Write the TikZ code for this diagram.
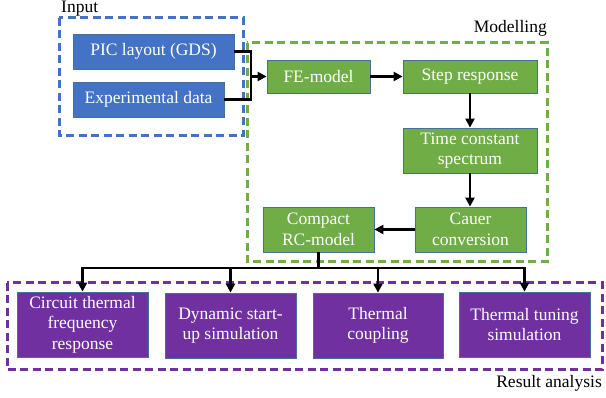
\documentclass[tikz,border=0pt]{standalone}
\usepackage{fontspec}
\setmainfont{Liberation Serif}
\newfontfamily\tnr{Liberation Serif}
\usetikzlibrary{arrows.meta}
\definecolor{oblue}{RGB}{68,114,196}
\definecolor{ogreen}{RGB}{112,173,71}
\definecolor{opurple}{RGB}{112,48,160}
\definecolor{oedge}{RGB}{65,113,156}
\tikzset{
  boxbase/.style={draw=oedge, line width=0.8pt, text=white, align=center, inner sep=0pt,
    font=\tnr\fontsize{17.5}{20.5}\selectfont},
  bluebox/.style={boxbase, fill=oblue},
  greenbox/.style={boxbase, fill=ogreen},
  purplebox/.style={boxbase, fill=opurple},
  groupbox/.style={line width=3pt, dash pattern=on 8pt off 4.5pt},
  grouplabel/.style={font=\tnr\fontsize{17.5}{20.5}\selectfont, inner sep=0pt},
  arr/.style={line width=2.6pt, -{Triangle[length=9pt,width=9pt]}},
  conn/.style={line width=2.6pt},
}
\begin{document}
\begin{tikzpicture}[x=1pt,y=-1pt]
\useasboundingbox (0,0) rectangle (606,398);
% group frames
\draw[groupbox, draw=oblue] (59,18) rectangle (243,136);
\draw[groupbox, draw=ogreen] (247,43) rectangle (547,262);
\draw[groupbox, draw=opurple] (7,283) rectangle (602,370);
\node[grouplabel, anchor=west] (linput) at (61,9) {Input};
\node[grouplabel, anchor=east] (lmodel) at (547,28) {Modelling};
\node[grouplabel, anchor=east] (lresult) at (602,383) {Result analysis};
% input nodes
\node[bluebox, minimum width=161pt, minimum height=35pt] (pic) at (153.5,51.5) {PIC layout (GDS)};
\node[bluebox, minimum width=151pt, minimum height=35pt] (exp) at (148.5,99.5) {Experimental data};
% modelling nodes
\node[greenbox, minimum width=103pt, minimum height=33pt] (fe) at (318.5,76.5) {FE-model};
\node[greenbox, minimum width=134pt, minimum height=33pt] (step) at (470,76.5) {Step response};
\node[greenbox, minimum width=134pt, minimum height=45pt] (tcs) at (470,150.5) {Time constant\\spectrum};
\node[greenbox, minimum width=111pt, minimum height=45pt] (cauer) at (470.5,229.5) {Cauer\\conversion};
\node[greenbox, minimum width=111pt, minimum height=45pt] (rc) at (318.5,229.5) {Compact\\RC-model};
% result nodes
\node[purplebox, minimum width=131pt, minimum height=65pt] (c1) at (82.5,324.5) {Circuit thermal\\frequency\\response};
\node[purplebox, minimum width=131pt, minimum height=65pt] (c2) at (230.5,325.5) {Dynamic start-\\up simulation};
\node[purplebox, minimum width=130pt, minimum height=65pt] (c3) at (378,325.5) {Thermal\\coupling};
\node[purplebox, minimum width=131pt, minimum height=65pt] (c4) at (524.5,324.5) {Thermal tuning\\simulation};
% connectors
\coordinate (j) at (251,76.5);
\draw[conn] (pic.east) -| (j);
\draw[conn] (exp.east) -| (j);
\draw[arr] (j) -- (fe.west);
\draw[arr] (fe.east) -- (step.west);
\draw[arr] (step.south) -- (tcs.north);
\draw[arr] (tcs.south) -- (tcs.south |- cauer.north);
\draw[arr] (cauer.west) -- (rc.east);
\coordinate (bus) at (318.5,268);
\draw[conn] (rc.south) -- (bus);
\draw[arr] (bus) -| (c1.north);
\draw[arr] (bus) -| (c2.north);
\draw[arr] (bus) -| (c3.north);
\draw[arr] (bus) -| (c4.north);
\end{tikzpicture}
\end{document}
